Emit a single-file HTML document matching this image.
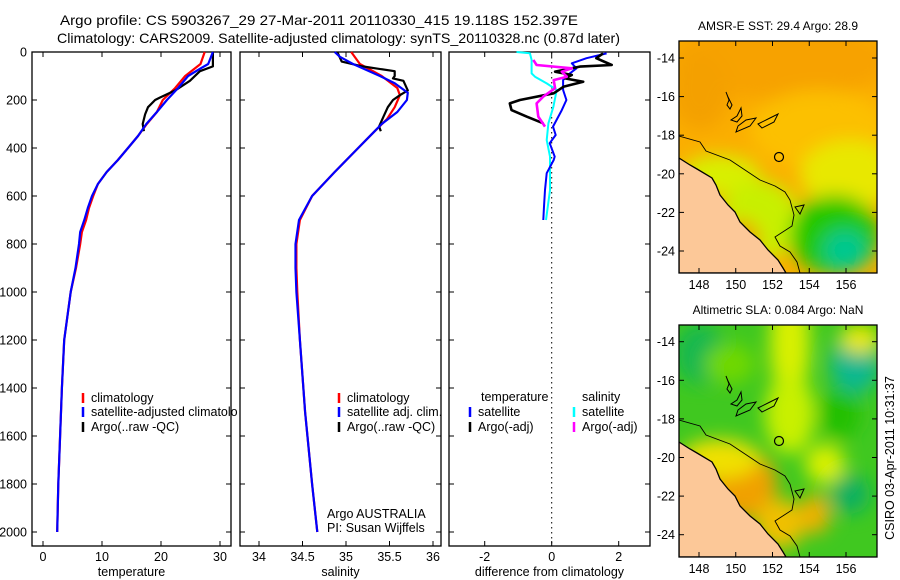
<!DOCTYPE html>
<html><head><meta charset="utf-8">
<style>
body{margin:0;background:#fff;}
svg{display:block;font-family:"Liberation Sans",sans-serif;}
</style></head>
<body>
<svg id="fig" width="900" height="580" viewBox="0 0 900 580" xmlns="http://www.w3.org/2000/svg">
<defs>
<filter id="blur" x="-50%" y="-50%" width="200%" height="200%"><feGaussianBlur stdDeviation="9"/></filter>
<clipPath id="clipMap1"><rect x="679" y="41" width="198" height="232"/></clipPath>
<clipPath id="clipMap2"><rect x="679" y="325" width="198" height="232"/></clipPath>
</defs>
<text x="60" y="25" font-size="14" textLength="518" lengthAdjust="spacingAndGlyphs">Argo profile: CS 5903267_29 27-Mar-2011 20110330_415 19.118S 152.397E</text>
<text x="57" y="43" font-size="14" textLength="563" lengthAdjust="spacingAndGlyphs">Climatology: CARS2009. Satellite-adjusted climatology: synTS_20110328.nc (0.87d later)</text>
<g id="panels"></g>
<g id="maps"></g>
<text transform="translate(894,458) rotate(-90)" font-size="12.5" text-anchor="middle">CSIRO 03-Apr-2011 10:31:37</text>
</svg>
<script>
// ---- data (depth in dbar) ----
const tClimDepth = [0,50,100,150,200,250,300,350,400,450,500,550,600,650,700,750,800,900,1000,1200,1400,1600,1800,2000];
const tClimVal   = [27.4,26.7,24.1,22.4,20.3,19.3,17.6,16.1,14.4,12.7,10.8,9.3,8.5,7.8,7.3,6.6,6.3,5.6,4.7,3.6,3.2,2.9,2.6,2.4];
const tSatDepth  = [0,50,70,100,150,200,250,300,350,400,450,500,550,600,650,700,750,800,900,1000,1200,1400,1600,1800,2000];
const tSatVal    = [28.8,28.0,26.6,24.6,22.9,21.0,19.3,17.5,16.1,14.4,12.7,10.8,9.3,8.3,7.6,7.0,6.3,6.1,5.5,4.7,3.6,3.2,2.9,2.6,2.4];
const tArgoDepth = [0,60,80,120,160,190,200,230,260,300,330];
const tArgoVal   = [28.8,28.8,26.6,24.9,22.4,19.8,19.0,17.8,17.3,16.9,17.1];

const sClimDepth = [0,50,100,150,180,230,280,330,400,500,600,700,800,900,1000,1200,1500,1800,2000];
const sClimVal   = [35.06,35.16,35.41,35.59,35.62,35.56,35.47,35.33,35.14,34.87,34.61,34.47,34.43,34.43,34.44,34.47,34.53,34.61,34.67];
const sSatDepth  = [0,20,50,100,130,170,200,250,300,330,400,500,600,700,800,900,1000,1200,1500,1800,2000];
const sSatVal    = [34.87,34.93,35.08,35.39,35.56,35.71,35.70,35.59,35.41,35.33,35.14,34.87,34.61,34.46,34.42,34.42,34.43,34.47,34.53,34.61,34.67];
const sArgoDepth = [0,40,60,80,100,110,120,160,180,200,230,270,310,330];
const sArgoVal   = [34.9,34.95,35.19,35.56,35.56,35.54,35.66,35.71,35.62,35.54,35.48,35.43,35.38,35.40];

const dTSatDepth = [6,26,47,68,89,117,158,200,242,311,346,380,436,450,505,575,644,700];
const dTSatVal   = [1.64,1.04,0.6,0.74,0.54,0.34,0.34,0.44,0.3,0.04,0.12,-0.06,0.09,0.06,-0.15,-0.2,-0.23,-0.25];
const dSSatDepth = [0,5,33,89,103,131,158,228,297,367,436,575,700];
const dSSatVal   = [-1.05,-0.65,-0.6,-0.6,-0.5,-0.15,0.15,0.05,-0.1,-0.15,-0.05,-0.05,-0.17];
const dTArgoDepth= [6,26,54,61,82,96,110,124,144,172,200,214,242,269,297];
const dTArgoVal  = [1.53,1.33,1.79,0.84,0.1,0.6,0.4,0.94,0.36,0.06,-0.95,-1.25,-1.2,-0.75,-0.25];
const dSArgoDepth= [33,54,68,82,103,117,151,186,214,269,311];
const dSArgoVal  = [-0.55,-0.45,0.6,0.3,0.45,0.06,0.1,-0.25,-0.45,-0.4,-0.2];

const depthTicks = [0,200,400,600,800,1000,1200,1400,1600,1800,2000];
const tempTicks = [0,10,20,30];
const salTicks = ["34","34.5","35","35.5","36"];
const diffTicks = [-2,0,2];
const lonTicks = [148,150,152,154,156];
const latTicks = [-14,-16,-18,-20,-22,-24];

// ---- helpers ----
const NS="http://www.w3.org/2000/svg";
function mk(tag, attrs, parent){const e=document.createElementNS(NS,tag);for(const k in attrs)e.setAttribute(k,attrs[k]);parent.appendChild(e);return e;}
const yDepth = d => 52 + d*0.24;
const xT = v => 43 + v*5.9;
const xS = v => 259 + (v-34)*87;
const xD = v => 551.7 + v*33.5;
const TOP=52, BOT=546;
const panels=document.getElementById('panels');

function axes(x0,x1,name,xticks,xfn,label,showY){
  const g=mk('g',{},panels);
  
  
  const r=mk('rect',{x:x0,y:TOP,width:x1-x0,height:BOT-TOP,fill:'#fff',stroke:'#000','stroke-width':1.3},g);
  
  
  depthTicks.forEach(d=>{
    const y=yDepth(d);
    mk('line',{x1:x0,x2:x0+5,y1:y,y2:y,stroke:'#000'},g);
    mk('line',{x1:x1-5,x2:x1,y1:y,y2:y,stroke:'#000'},g);
    if(showY){
      const t=mk('text',{x:x0-5,y:y+4.5,'font-size':12.5,'text-anchor':'end'},g);
      t.textContent=d;
      
      
    }
  });
  xticks.forEach(v=>{
    const x=xfn(parseFloat(v));
    mk('line',{x1:x,x2:x,y1:BOT,y2:BOT-5,stroke:'#000'},g);
    mk('line',{x1:x,x2:x,y1:TOP,y2:TOP+5,stroke:'#000'},g);
    const t=mk('text',{x:x,y:BOT+15,'font-size':12.5,'text-anchor':'middle'},g);
    t.textContent=v;
    
    
  });
  const t=mk('text',{x:(x0+x1)/2,y:BOT+30,'font-size':12.5,'text-anchor':'middle'},g);
  t.textContent=label;
  
  
  return g;
}
function line(g,depths,vals,xfn,color,name,w){
  const pts=depths.map((d,i)=>xfn(vals[i]).toFixed(1)+','+yDepth(d).toFixed(1)).join(' ');
  const p=mk('polyline',{points:pts,fill:'none',stroke:color,'stroke-width':w||2.2,'stroke-linejoin':'round'},g);
  
  
}
function legend(g,x,y,color,text,name){
  if(color) mk('line',{x1:x,x2:x,y1:y-9,y2:y+1,stroke:color,'stroke-width':2.5},g);
  const t=mk('text',{x:x+8,y:y,'font-size':12.5},g);
  t.textContent=text;
  
  
}

// panel 1
const g1=axes(32,231,'temperature-panel',tempTicks,xT,'temperature',true);
line(g1,tClimDepth,tClimVal,xT,'#f00','temp-climatology-line');
line(g1,tArgoDepth,tArgoVal,xT,'#000','temp-argo-line');
line(g1,tSatDepth,tSatVal,xT,'#00f','temp-satellite-line');
legend(g1,83,402,'#f00','climatology','legend-climatology');
legend(g1,83,416,'#00f','satellite-adjusted climatology','legend-satellite');
legend(g1,83,431,'#000','Argo(..raw -QC)','legend-argo');
mk('rect',{x:238,y:405,width:2,height:15,fill:'#fff'},g1);

// panel 2
const g2=axes(240,441,'salinity-panel',salTicks,xS,'salinity',false);
line(g2,sClimDepth,sClimVal,xS,'#f00','sal-climatology-line');
line(g2,sArgoDepth,sArgoVal,xS,'#000','sal-argo-line');
line(g2,sSatDepth,sSatVal,xS,'#00f','sal-satellite-line');
legend(g2,339,402,'#f00','climatology','legend-climatology');
legend(g2,339,416,'#00f','satellite adj. clim.','legend-satellite');
legend(g2,339,431,'#000','Argo(..raw -QC)','legend-argo');
legend(g2,319,518,null,'Argo AUSTRALIA','argo-country');
legend(g2,319,532,null,'PI: Susan Wijffels','principal-investigator');

// panel 3
const g3=axes(449,650,'difference-panel',diffTicks,xD,'difference from climatology',false);
mk('line',{x1:xD(0),x2:xD(0),y1:TOP,y2:BOT,stroke:'#000','stroke-dasharray':'1.5,3.5','stroke-width':1},g3);
line(g3,dSSatDepth,dSSatVal,xD,'#0ff','diff-sal-satellite-line',2);
line(g3,dTSatDepth,dTSatVal,xD,'#00f','diff-temp-satellite-line',2);
line(g3,dTArgoDepth,dTArgoVal,xD,'#000','diff-temp-argo-line',2.6);
line(g3,dSArgoDepth,dSArgoVal,xD,'#f0f','diff-sal-argo-line',2.6);
legend(g3,473,401,null,'temperature','legend-temperature-header');
legend(g3,574,401,null,'salinity','legend-salinity-header');
legend(g3,470,416,'#00f','satellite','legend-temp-satellite');
legend(g3,470,431,'#000','Argo(-adj)','legend-temp-argo');
legend(g3,574,416,'#0ff','satellite','legend-sal-satellite');
legend(g3,574,431,'#f0f','Argo(-adj)','legend-sal-argo');

// ---- maps ----
const maps=document.getElementById('maps');
const mx = lon => 699 + (lon-148)*18.375;
const land = "679,158 690,165 697,169 712,178 716,185 720,195 728,205 735,212 740,222 750,232 760,240 768,250 778,260 783,268 786,273 679,273";
const shelf = "679,136 700,142 706,151 730,160 745,170 760,180 775,186 785,192 790,200 794,215 792,226 775,237 780,246 790,252 797,262 800,273";
function map(y0,lat0y,title,name,blobs,base){
  const g=mk('g',{},maps);
  
  
  const dy=y0-41;
  const inner=mk('g',{'clip-path':'url(#'+(dy?'clipMap2':'clipMap1')+')'},g);
  mk('rect',{x:679,y:y0,width:198,height:232,fill:base},inner);
  const bg=mk('g',{filter:'url(#blur)',transform:'translate(0,'+dy+')'},inner);
  blobs.forEach(b=>mk('ellipse',{cx:b[0],cy:b[1],rx:b[2],ry:b[3],fill:b[4]},bg));
  const ov=mk('g',{transform:'translate(0,'+dy+')'},inner);
  const l=mk('polygon',{points:land,fill:'#fcc898',stroke:'#000','stroke-width':1.3},ov);
  
  
  mk('polyline',{points:shelf,fill:'none',stroke:'#000','stroke-width':0.9},ov);
  mk('path',{d:'M726,92 l3,8 l-2,5 l3,4 l2,-4 l-4,-8 z M741,108 l-4,8 l-6,4 l6,2 l5,-6 z M738,126 l8,-6 l10,-2 l-6,8 l-14,6 z M758,124 l12,-6 l8,-4 l-4,8 l-12,6 z',fill:'none',stroke:'#000','stroke-width':1},ov);
  mk('circle',{cx:779,cy:157,r:4.5,fill:'none',stroke:'#000','stroke-width':1.2},ov);
  mk('path',{d:'M795,207 l9,-2 l-4,9 z',fill:'none',stroke:'#000','stroke-width':1},ov);
  mk('rect',{x:679,y:y0,width:198,height:232,fill:'none',stroke:'#000','stroke-width':1.3},g);
  lonTicks.forEach(lon=>{
    const x=mx(lon);
    mk('line',{x1:x,x2:x,y1:y0+232,y2:y0+227,stroke:'#000'},g);
    mk('line',{x1:x,x2:x,y1:y0,y2:y0+5,stroke:'#000'},g);
    const t=mk('text',{x:x,y:y0+248,'font-size':12.5,'text-anchor':'middle'},g);
    t.textContent=lon;
    
    
  });
  latTicks.forEach(lat=>{
    const y=lat0y+(-lat-14)*19.3;
    mk('line',{x1:679,x2:684,y1:y,y2:y,stroke:'#000'},g);
    mk('line',{x1:872,x2:877,y1:y,y2:y,stroke:'#000'},g);
    const t=mk('text',{x:675,y:y+4.5,'font-size':12.5,'text-anchor':'end'},g);
    t.textContent=lat;
    
    
  });
  const t=mk('text',{x:778,y:y0-11,'font-size':12,'text-anchor':'middle'},g);
  t.textContent=title;
  
  
}
map(41,58,'AMSR-E SST: 29.4  Argo: 28.9','sst-map',[
  [780,60,110,40,'#f7a200'],[700,90,30,40,'#f4a000'],[820,130,70,40,'#fcc000'],
  [850,175,50,35,'#e8e800'],[720,175,40,20,'#d8f000'],[760,220,40,40,'#c8f000'],
  [835,235,45,40,'#20c800'],[845,250,22,20,'#00c890'],[740,240,20,20,'#f0a000']
],'#fbae00');
map(325,341.7,'Altimetric SLA: 0.084  Argo: NaN','sla-map',[
  [700,70,25,30,'#18b850'],[730,80,25,20,'#70d800'],[790,60,20,60,'#d8f000'],
  [790,130,25,40,'#c8f000'],[855,80,25,30,'#10b890'],[840,130,20,25,'#20c000'],
  [742,200,35,35,'#f0a000'],[720,175,40,20,'#f0e000'],[780,240,25,25,'#f0c000'],
  [815,230,15,20,'#f0b000'],[825,180,20,20,'#d8f000'],[850,210,20,20,'#10b060'],[860,55,20,15,'#e8e800']
],'#40c820');
</script>
</body></html>
